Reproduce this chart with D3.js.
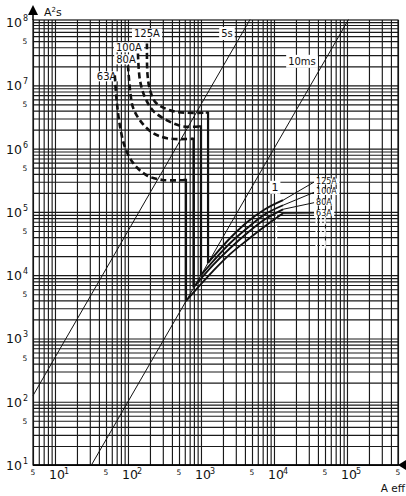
<!DOCTYPE html>
<html>
<head>
<meta charset="utf-8">
<script src="https://cdn.jsdelivr.net/npm/d3@7"></script>
<style>
  body { margin: 0; background: #fff; }
  svg { font-family: "DejaVu Sans", sans-serif; }
</style>
</head>
<body>
<svg id="chart" width="406" height="496"></svg>
<script>
// tick labels
var xDecades = [10, 100, 1e3, 1e4, 1e5];
var xFives = [5, 50, 500, 5000, 50000, 500000];
var yDecades = [10, 100, 1e3, 1e4, 1e5, 1e6, 1e7, 1e8];
var yFives = [50, 500, 5000, 50000, 5e5, 5e6, 5e7];

var ratings = ["63A", "80A", "100A", "125A"];

// pre-arcing I2t (dashed), A vs A2s
var prearc63 = [[66, 1.44e7], [70, 5.8e6], [78, 2.2e6], [91, 1.06e6], [118, 5.9e5], [180, 3.8e5], [300, 3.2e5], [623, 3.2e5]];
var prearc80 = [[100, 2.07e7], [107, 8.3e6], [117, 4.5e6], [146, 2.8e6], [213, 1.81e6], [342, 1.46e6], [790, 1.43e6]];
var prearc100 = [[137, 3.2e7], [146, 1.2e7], [171, 6.5e6], [220, 4.0e6], [342, 2.8e6], [567, 2.25e6], [1000, 2.25e6]];
var prearc125 = [[182, 4.6e7], [185, 1.5e7], [200, 8.5e6], [235, 5.5e6], [300, 4.5e6], [470, 3.8e6], [1250, 3.7e6]];

// total operating I2t (solid)
var total63 = [[623, 3900], [970, 6950], [1460, 11600], [2500, 21500], [4270, 35700], [7530, 59400], [13300, 95000]];
var total80 = [[790, 6400], [1460, 14400], [2500, 26700], [4270, 46100], [7530, 76600], [13300, 110000]];
var total100 = [[1000, 10000], [1460, 16600], [2500, 32000], [4270, 55200], [7530, 91900], [13300, 127500]];
var total125 = [[1250, 15600], [1460, 19300], [2500, 38400], [4270, 68700], [7530, 110000], [13300, 153000]];

// constant time lines I2t = I2 * t
var line5s = [[5, 125], [4700, 1.1e8]];
var line10ms = [[31.6, 10], [105000, 1.1e8]];

// label anchors
var topLabelPos = [[51, 1.39e7], [94, 2.58e7], [103, 4.0e7], [182, 6.6e7]];
var rightLabelPos = [[37700, 9.6e4], [37700, 1.41e5], [37700, 2.07e5], [37700, 3.03e5]];

var svg = d3.select("#chart");
var x = d3.scaleLog().domain([5, 5e5]).range([33, 398]);
var y = d3.scaleLog().domain([10, 1.08e8]).range([465, 20]);

// grid values 1..9 per decade
var gridX = [], gridY = [];
for (var e = 0; e <= 5; e++) {
  for (var m = 1; m <= 9; m++) {
    var v = m * Math.pow(10, e);
    if (v >= 5 && v <= 5e5) gridX.push(v);
  }
}
for (var e2 = 1; e2 <= 8; e2++) {
  for (var m2 = 1; m2 <= 9; m2++) {
    var w = m2 * Math.pow(10, e2);
    if (w <= 1.08e8) gridY.push(w);
  }
}

svg.append("g")
  .attr("transform", "translate(0,465)")
  .call(d3.axisBottom(x).tickValues(gridX).tickSize(-445).tickFormat(""))
  .call(function(g) {
    g.select(".domain").remove();
    g.selectAll(".tick line").attr("stroke", "#1a1a1a").attr("stroke-width", 1.15);
  });

svg.append("g")
  .attr("transform", "translate(33,0)")
  .call(d3.axisLeft(y).tickValues(gridY).tickSize(-365).tickFormat(""))
  .call(function(g) {
    g.select(".domain").remove();
    g.selectAll(".tick line").attr("stroke", "#1a1a1a").attr("stroke-width", 1.15);
  });

// frame
svg.append("rect")
  .attr("x", 33).attr("y", 20).attr("width", 365).attr("height", 445)
  .attr("fill", "none").attr("stroke", "#111").attr("stroke-width", 1.2);

// scan gaps (white dashed strokes over the grid)
var gaps = [[[10800, 2.3e5], [10800, 2.5e4]], [[38000, 8.5e4], [38000, 2.6e4]], [[44000, 8.5e4], [44000, 2.6e4]], [[50000, 8.5e4], [50000, 2.6e4]]];
gaps.forEach(function(gp) {
  svg.append("line").attr("x1", x(gp[0][0])).attr("y1", y(gp[0][1]))
    .attr("x2", x(gp[1][0])).attr("y2", y(gp[1][1]))
    .attr("stroke", "#fff").attr("stroke-width", 1.6).attr("stroke-dasharray", "8,4");
});

// axes arrows
svg.append("path").attr("d", "M28,15 L33,5 L38,15 Z").attr("fill", "#000");
svg.append("line").attr("x1", 33).attr("x2", 33).attr("y1", 15).attr("y2", 20).attr("stroke", "#000").attr("stroke-width", 1.5);
svg.append("path").attr("d", "M398,465 L406,460 L406,470 Z").attr("fill", "#000");
svg.append("line").attr("x1", 33).attr("x2", 400).attr("y1", 465).attr("y2", 465).attr("stroke", "#000").attr("stroke-width", 1.5);

// y tick labels
yDecades.forEach(function(d) {
  svg.append("text").attr("x", 22).attr("y", y(d) + 5).attr("text-anchor", "end")
    .attr("font-size", 12.5).attr("fill", "#111").text("10");
  svg.append("text").attr("x", 23).attr("y", y(d) - 1).attr("font-size", 8).attr("fill", "#111")
    .text(Math.round(Math.log10(d)));
});
yFives.forEach(function(d) {
  svg.append("text").attr("x", 25).attr("y", y(d) + 3).attr("font-size", 7.5)
    .attr("text-anchor", "middle").attr("fill", "#111").text("5");
});

// x tick labels
xDecades.forEach(function(d) {
  svg.append("text").attr("x", x(d) - 6).attr("y", 479).attr("font-size", 12.5).attr("fill", "#111").text("10");
  svg.append("text").attr("x", x(d) + 9).attr("y", 474).attr("font-size", 8).attr("fill", "#111")
    .text(Math.round(Math.log10(d)));
});
xFives.forEach(function(d) {
  svg.append("text").attr("x", x(d)).attr("y", 475).attr("font-size", 7.5)
    .attr("text-anchor", "middle").attr("fill", "#111").text("5");
});

// axis titles
var yt = svg.append("text").attr("x", 44).attr("y", 16).attr("font-size", 11).attr("fill", "#111");
yt.append("tspan").text("A");
yt.append("tspan").attr("font-size", 7).attr("dy", -4).text("2");
yt.append("tspan").attr("dy", 4).text("s");
svg.append("text").attr("x", 405).attr("y", 492).attr("text-anchor", "end")
  .attr("font-size", 10.5).attr("fill", "#111").text("A eff");

var line = d3.line().x(function(d) { return x(d[0]); }).y(function(d) { return y(d[1]); });
var curve = d3.line().x(function(d) { return x(d[0]); }).y(function(d) { return y(d[1]); })
  .curve(d3.curveCatmullRom.alpha(0.5));

// time lines
[line5s, line10ms].forEach(function(l) {
  svg.append("path").attr("d", line(l)).attr("fill", "none").attr("stroke", "#111").attr("stroke-width", 1);
});

function labelBox(px, py, txt, size, anchor, pad) {
  var g = svg.append("g");
  var t = g.append("text").attr("x", px).attr("y", py).attr("font-size", size)
    .attr("text-anchor", anchor).attr("dominant-baseline", "central").attr("fill", "#111").text(txt);
  var b = t.node().getBBox();
  g.insert("rect", "text").attr("x", b.x - 2).attr("y", b.y + pad).attr("width", b.width + 4)
    .attr("height", b.height - 2 * pad).attr("fill", "#fff");
}

labelBox(x(2270), y(6.6e7), "5s", 10, "middle", -1);
labelBox(x(24200), y(2.4e7), "10ms", 10, "middle", -1);

var prearcs = [prearc63, prearc80, prearc100, prearc125];
var totals = [total63, total80, total100, total125];

// top labels (drawn before curves)
ratings.forEach(function(r, i) {
  labelBox(x(topLabelPos[i][0]), y(topLabelPos[i][1]), r, 10, "middle", 0.5);
});

prearcs.forEach(function(p, i) {
  svg.append("path").attr("d", curve(p)).attr("fill", "none").attr("stroke", "#111")
    .attr("stroke-width", 2.6).attr("stroke-dasharray", "6,3.5");
  var last = p[p.length - 1];
  var start = totals[i][0];
  svg.append("path").attr("d", line([[last[0] * 0.93, last[1]], last, [start[0], start[1]]]))
    .attr("fill", "none").attr("stroke", "#111").attr("stroke-width", 2.2);
});

totals.forEach(function(t) {
  svg.append("path").attr("d", curve(t)).attr("fill", "none").attr("stroke", "#111").attr("stroke-width", 1.9);
});

// right labels with leaders
labelBox(x(10300), y(2.45e5), "1", 11, "middle", 0);
ratings.forEach(function(r, i) {
  var end = totals[i][totals[i].length - 1];
  var lp = rightLabelPos[i];
  svg.append("line").attr("x1", x(end[0])).attr("y1", y(end[1]))
    .attr("x2", x(lp[0]) - 1).attr("y2", y(lp[1])).attr("stroke", "#111").attr("stroke-width", 1);
  labelBox(x(lp[0]), y(lp[1]), r, 8, "start", 1.5);
});
</script>
</body>
</html>
